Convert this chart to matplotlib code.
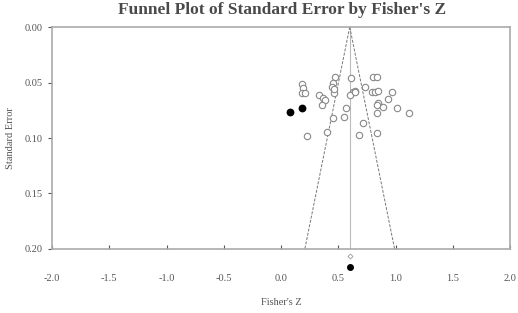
import numpy as np
import matplotlib.pyplot as plt

plt.rcParams["font.family"] = ["Liberation Serif", "DejaVu Serif"]

# observed studies (Fisher's Z, standard error)
obs_z = [0.181, 0.195, 0.181, 0.210, 0.223, 0.334, 0.364, 0.384, 0.355,
         0.472, 0.457, 0.443, 0.463, 0.460, 0.609, 0.626, 0.650, 0.603,
         0.801, 0.841, 0.734, 0.792, 0.821, 0.850, 0.967, 0.937, 0.850,
         0.841, 0.893, 1.010, 1.121, 0.568, 0.550, 0.841, 0.719, 0.684,
         0.836, 0.451, 0.404, 0.646]
obs_se = [0.0514, 0.0552, 0.0597, 0.0592, 0.0982, 0.0613, 0.0642, 0.0658, 0.0703,
          0.0453, 0.0505, 0.0538, 0.0597, 0.0562, 0.0462, 0.0583, 0.0574, 0.0613,
          0.0448, 0.0453, 0.0538, 0.0583, 0.0583, 0.0574, 0.0588, 0.0651, 0.0682,
          0.0703, 0.0718, 0.0727, 0.0772, 0.0733, 0.0808, 0.0772, 0.0862, 0.0973,
          0.0952, 0.0823, 0.0943, 0.0590]

# imputed studies
imp_z = [0.079, 0.186]
imp_se = [0.0770, 0.0727]

mean_z = 0.60
obs_diamond = (0.60, 0.206)
imp_diamond = (0.60, 0.216)

fig = plt.figure(figsize=(5.18, 3.13), dpi=100)
ax = fig.add_axes([0.1004, 0.2045, 0.8842, 0.7092])

gray = "#555555"
se_line = np.array([0.0, 0.2])
ax.plot([mean_z, mean_z], [0, 0.2], color="#bbbbbb", lw=0.8)
ax.plot(mean_z - 1.96 * se_line, se_line, color="#777777", lw=0.7, ls=(0, (3, 1.5)))
ax.plot(mean_z + 1.96 * se_line, se_line, color="#777777", lw=0.7, ls=(0, (3, 1.5)))

ax.plot(obs_z, obs_se, "o", ms=4.6, mfc="white", mec="#888888", mew=0.8)
ax.plot(imp_z, imp_se, "o", ms=4.6, mfc="black", mec="black")

ax.plot(*obs_diamond, "D", ms=2.5, mfc="white", mec="#999999", mew=0.6, clip_on=False)
ax.plot(*imp_diamond, "o", ms=4, mfc="black", mec="black", clip_on=False)

ax.set_xlim(-2, 2)
ax.set_ylim(0.2, 0)
ax.set_xticks(np.arange(-2, 2.01, 0.5))
ax.set_xticklabels([f"{v:.1f}" for v in np.arange(-2, 2.01, 0.5)])
ax.set_yticks([0.0, 0.05, 0.10, 0.15, 0.20])
ax.set_yticklabels(["0.00", "0.05", "0.10", "0.15", "0.20"])

for s in ax.spines.values():
    s.set_color("#aaaaaa")
    s.set_linewidth(1.2)
ax.tick_params(axis="x", direction="in", length=3, color=gray, labelsize=7.5,
               labelcolor=gray, pad=18)
ax.tick_params(axis="y", direction="out", length=3, color=gray, labelsize=7.5,
               labelcolor=gray)

ax.set_xlabel("Fisher's Z", fontsize=7.5, color=gray, labelpad=11)
ax.set_ylabel("Standard Error", fontsize=7.5, color=gray, labelpad=7)
fig.suptitle("Funnel Plot of Standard Error by Fisher's Z", x=0.545, y=0.995,
             fontsize=12.5, fontweight="bold", color="#4a4a4a")

fig.savefig("out.png", dpi=100)
